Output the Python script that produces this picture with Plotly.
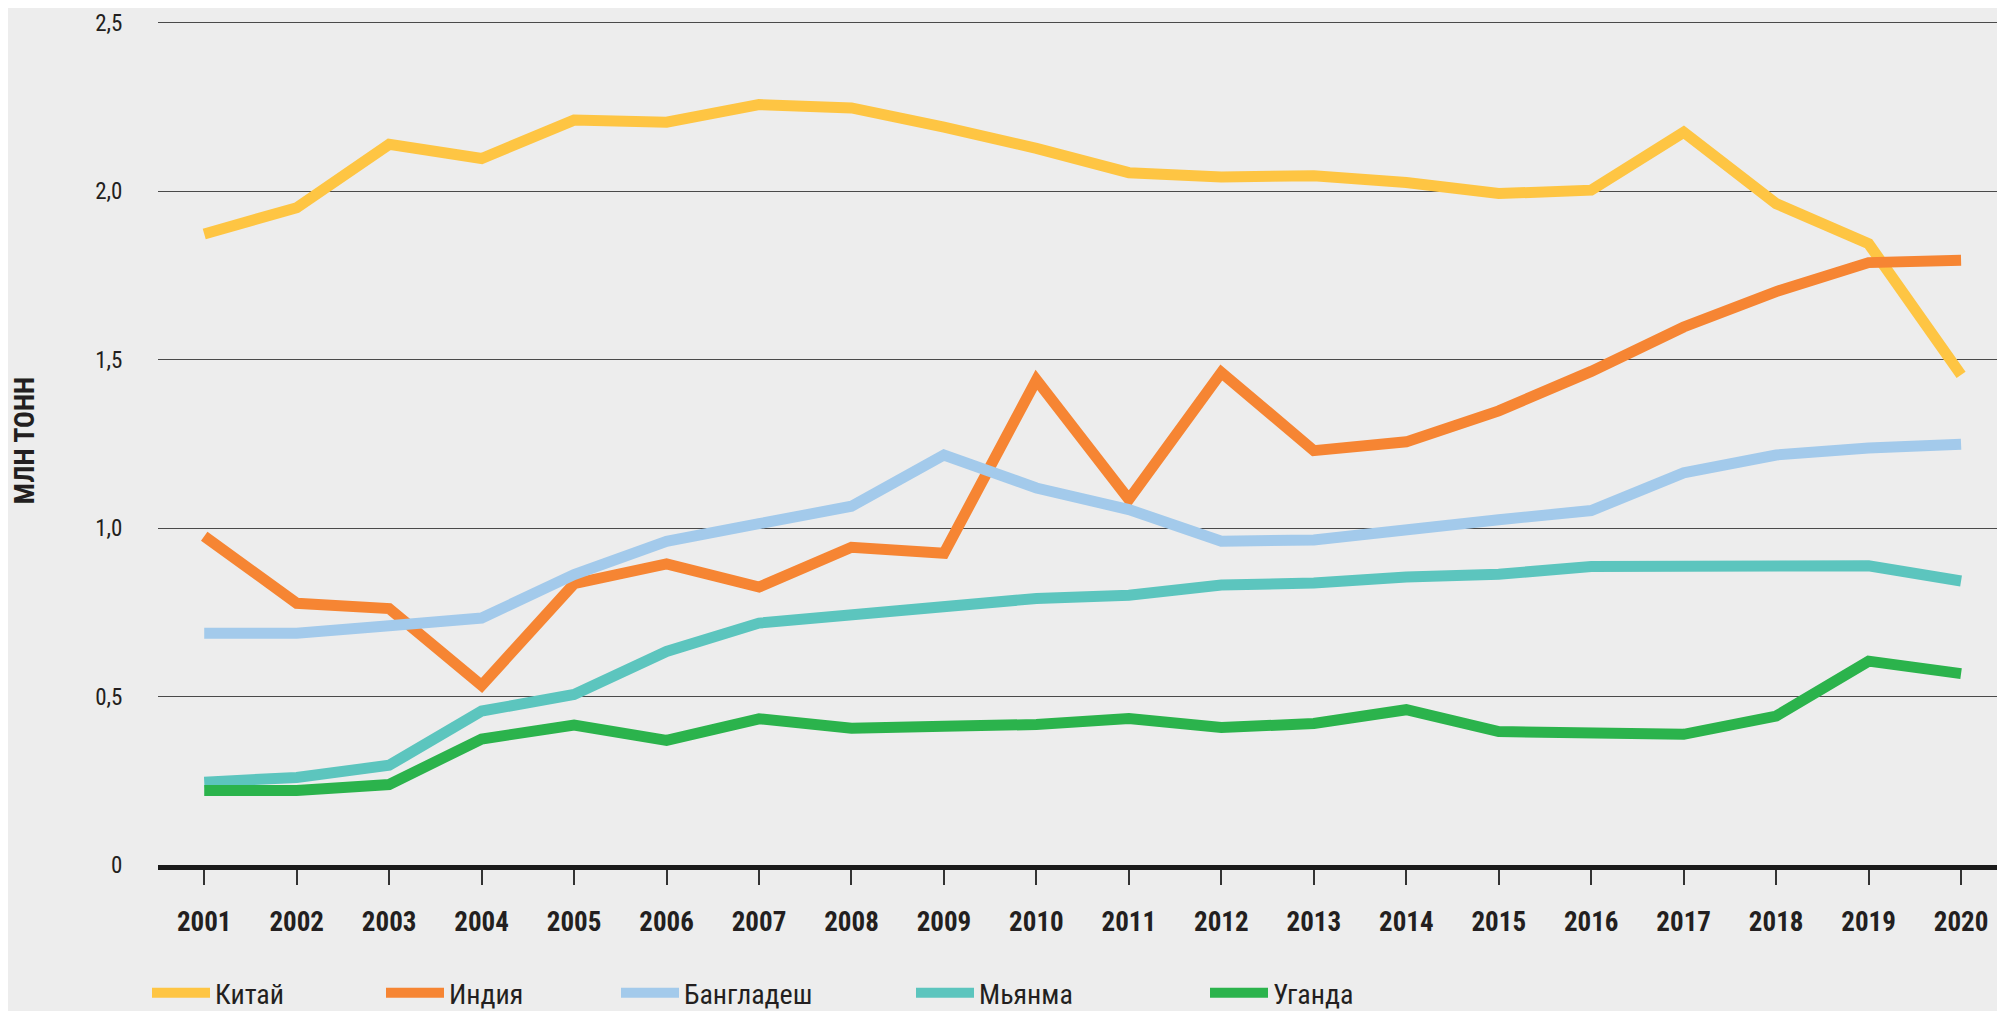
import plotly.graph_objects as go

years = list(range(2001, 2021))

china = [1.873, 1.951, 2.139, 2.097, 2.211, 2.205, 2.257, 2.247, 2.19, 2.127,
         2.055, 2.042, 2.046, 2.026, 1.993, 2.003, 2.175, 1.963, 1.844, 1.455]
india = [0.976, 0.777, 0.761, 0.533, 0.835, 0.894, 0.825, 0.943, 0.925, 1.44,
         1.085, 1.462, 1.23, 1.256, 1.348, 1.465, 1.597, 1.702, 1.788, 1.795]
bangladesh = [0.688, 0.688, 0.71, 0.733, 0.862, 0.961, 1.013, 1.065, 1.217, 1.119,
              1.055, 0.961, 0.965, 0.998, 1.025, 1.052, 1.164, 1.217, 1.238, 1.249]
myanmar = [0.246, 0.26, 0.296, 0.457, 0.506, 0.634, 0.718, 0.74, 0.761, 0.791,
           0.801, 0.831, 0.837, 0.855, 0.863, 0.886, 0.887, 0.891, 0.888, 0.843]
uganda = [0.221, 0.221, 0.239, 0.374, 0.415, 0.37, 0.434, 0.406, 0.412, 0.417,
          0.435, 0.408, 0.42, 0.461, 0.396, 0.388, 0.388, 0.442, 0.605, 0.568]

names = ["Китай", "Индия", "Бангладеш", "Мьянма", "Уганда"]
series = [china, india, bangladesh, myanmar, uganda]
colors = ["#FEC543", "#F68533", "#A3CAEB", "#5CC5BE", "#2BB34C"]

y_tickvals = [0, 0.5, 1.0, 1.5, 2.0, 2.5]
y_ticktext = ["0", "0,5", "1,0", "1,5", "2,0", "2,5"]

FONT = "Roboto Condensed, DejaVu Sans Condensed, sans-serif"
BG = "#EDEDED"
TXT = "#231F20"

W, H = 2005, 1011
Y_TOP = 2.52
AXIS_Y = 857
TOP_GRID_Y = 15
px_per_unit = (AXIS_Y - TOP_GRID_Y) / 2.5
MB = H - AXIS_Y
plot_h = Y_TOP * px_per_unit
MT = H - MB - plot_h
ML, MR = 150, 2
plot_w = W - ML - MR

legend_starts = [150, 384, 619, 914, 1208]
legend_y_px = 985

fig = go.Figure()
legend_ids = ["legend", "legend2", "legend3", "legend4", "legend5"]
for name, vals, col, lid in zip(names, series, colors, legend_ids):
    fig.add_trace(go.Scatter(
        x=years, y=vals, name=name, mode="lines",
        line=dict(color=col, width=11),
        legend=lid, hoverinfo="x+y+name",
    ))

layout_legends = {}
for lid, sx in zip(legend_ids, legend_starts):
    layout_legends[lid] = dict(
        x=(sx - 11 - ML) / plot_w,
        y=-(legend_y_px - AXIS_Y) / plot_h,
        xanchor="left", yanchor="middle",
        orientation="h",
        bgcolor="rgba(0,0,0,0)",
        font=dict(family=FONT, size=28, color=TXT),
        itemwidth=58,
        borderwidth=0,
    )

fig.update_layout(
    width=W, height=H,
    margin=dict(l=ML, r=MR, t=MT, b=MB, pad=0, autoexpand=False),
    paper_bgcolor=BG, plot_bgcolor=BG,
    font=dict(family=FONT, color=TXT),
    showlegend=True,
    **layout_legends,
)

fig.update_xaxes(
    range=[2000.5, 2020.54],
    tickvals=years,
    ticktext=[str(y) for y in years],
    tickfont=dict(family=FONT, size=27, color=TXT, weight="bold"),
    ticks="outside", ticklen=15, tickwidth=1.5, tickcolor="#333333",
    ticklabelstandoff=14,
    showline=True, linewidth=4.5, linecolor="#1A1A1A",
    showgrid=False, zeroline=False,
    automargin=False,
)

fig.update_yaxes(
    range=[0, Y_TOP],
    tickvals=y_tickvals,
    ticktext=y_ticktext,
    tickfont=dict(family=FONT, size=23, color=TXT),
    ticklabeloverflow="allow",
    ticks="outside", ticklen=30, tickcolor="rgba(0,0,0,0)",
    showgrid=True, gridcolor="#4A4A4A", gridwidth=1.3,
    zeroline=False, showline=False,
    automargin=False,
    title=dict(text="МЛН ТОНН",
               font=dict(family=FONT, size=28, color=TXT, weight="bold"),
               standoff=75),
)

fig.write_html("out.html")
